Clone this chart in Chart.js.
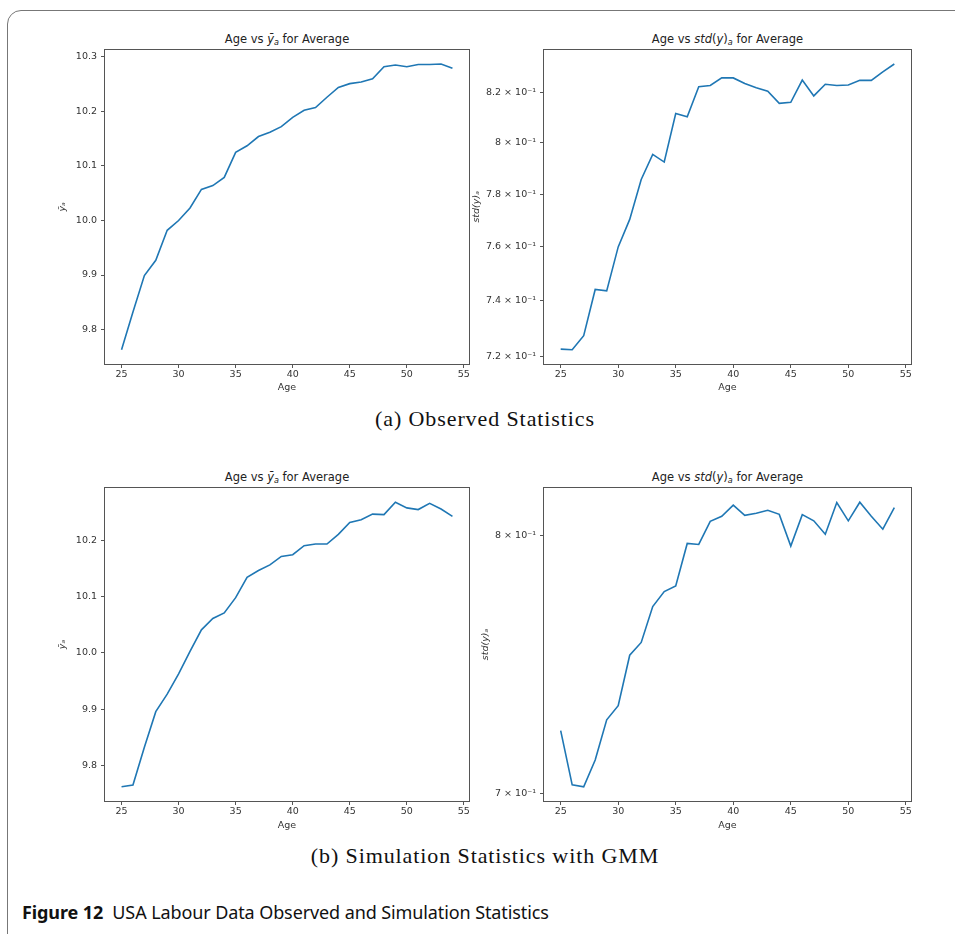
<!DOCTYPE html>
<html>
<head>
<meta charset="utf-8">
<script src="https://cdn.jsdelivr.net/npm/chart.js@4.4.0/dist/chart.umd.min.js"></script>
<style>
  body { margin: 0; width: 955px; height: 934px; overflow: hidden; background: #fff; position: relative; }
  .box { position: absolute; left: 7px; top: 10px; width: 1000px; height: 1000px; border: 1.5px solid #777; border-radius: 14px; }
  canvas { position: absolute; }
  .ttl { position: absolute; font-family: "DejaVu Sans"; font-size: 11.5px; color: #222; text-align: center; line-height: 14px; white-space: nowrap; }
  .ttl sub { font-size: 70%; vertical-align: -2px; line-height: 0; }
  .cap { position: absolute; left: 0; width: 970px; text-align: center; font-family: "Liberation Serif"; font-size: 22px; color: #111; letter-spacing: 0.9px; }
  .fig { position: absolute; left: 22px; top: 900px; font-family: "Noto Sans"; font-size: 18px; color: #111; white-space: nowrap; letter-spacing: -0.1px; }
</style>
</head>
<body>
<div class="box"></div>

<div class="ttl" style="left:105px;width:364px;top:32px">Age vs <i>ȳ</i><sub><i>a</i></sub> for Average</div>
<div class="ttl" style="left:544px;width:367px;top:32px">Age vs <i>std</i>(<i>y</i>)<sub><i>a</i></sub> for Average</div>
<div class="ttl" style="left:105px;width:364px;top:470px">Age vs <i>ȳ</i><sub><i>a</i></sub> for Average</div>
<div class="ttl" style="left:544px;width:367px;top:470px">Age vs <i>std</i>(<i>y</i>)<sub><i>a</i></sub> for Average</div>

<canvas id="c1" width="427" height="358" style="left:48px;top:40px"></canvas>
<canvas id="c2" width="450" height="358" style="left:467px;top:40px"></canvas>
<canvas id="c3" width="427" height="358" style="left:48px;top:478px"></canvas>
<canvas id="c4" width="441" height="358" style="left:476px;top:478px"></canvas>

<div class="cap" style="top:406px">(a) Observed Statistics</div>
<div class="cap" style="top:843px">(b) Simulation Statistics with GMM</div>
<div class="fig"><b>Figure 12</b>&nbsp; USA Labour Data Observed and Simulation Statistics</div>

<script>
const ages = [25, 26, 27, 28, 29, 30, 31, 32, 33, 34, 35, 36, 37, 38, 39, 40, 41, 42, 43, 44, 45, 46, 47, 48, 49, 50, 51, 52, 53, 54];

const obsMean = [9.763, 9.832, 9.899, 9.927, 9.982, 10.000, 10.023, 10.057, 10.064, 10.079, 10.125, 10.137, 10.154, 10.162, 10.172,
  10.189, 10.202, 10.207, 10.226, 10.244, 10.251, 10.254, 10.260, 10.282, 10.285, 10.282, 10.286, 10.286, 10.287, 10.279];
const obsStd = [0.7226, 0.7224, 0.7274, 0.7442, 0.7437, 0.7600, 0.7704, 0.7857, 0.7955, 0.7925, 0.8117, 0.8104, 0.8225, 0.8230, 0.8261,
  0.8261, 0.8238, 0.8221, 0.8207, 0.8158, 0.8162, 0.8252, 0.8188, 0.8235, 0.8230, 0.8232, 0.8251, 0.8251, 0.8286, 0.8318];
const simMean = [9.763, 9.766, 9.833, 9.896, 9.927, 9.963, 10.003, 10.041, 10.061, 10.071, 10.098, 10.134, 10.146, 10.156, 10.171,
  10.174, 10.190, 10.193, 10.193, 10.210, 10.231, 10.236, 10.246, 10.245, 10.267, 10.257, 10.254, 10.265, 10.255, 10.242];
const simStd = [0.7230, 0.7030, 0.7023, 0.7121, 0.7271, 0.7324, 0.7518, 0.7568, 0.7710, 0.7770, 0.7793, 0.7966, 0.7962, 0.8058, 0.8079,
  0.8126, 0.8083, 0.8092, 0.8104, 0.8087, 0.7955, 0.8086, 0.8060, 0.8004, 0.8137, 0.8060, 0.8138, 0.8079, 0.8025, 0.8115];

const xTicks = [25, 30, 35, 40, 45, 50, 55];
const obsMeanTicks = [9.8, 9.9, 10.0, 10.1, 10.2, 10.3];
const obsStdTicks = [0.72, 0.74, 0.76, 0.78, 0.80, 0.82];
const simMeanTicks = [9.8, 9.9, 10.0, 10.1, 10.2];
const simStdTicks = [0.7, 0.8];

const FONT = "DejaVu Sans";
const INK = "#333";
const SPINE = "#555";

// matplotlib style 5% margins
function linRange(v) {
  const lo = Math.min(...v), hi = Math.max(...v), m = (hi - lo) * 0.05;
  return [lo - m, hi + m];
}
function logRange(v) {
  const lo = Math.log(Math.min(...v)), hi = Math.log(Math.max(...v)), m = (hi - lo) * 0.05;
  return [Math.exp(lo - m), Math.exp(hi + m)];
}

const frame = {
  id: "frame",
  afterDraw(chart) {
    const { ctx, chartArea: a } = chart;
    ctx.save();
    ctx.strokeStyle = SPINE;
    ctx.lineWidth = 1;
    ctx.strokeRect(Math.round(a.left) - 0.5, Math.round(a.top) - 0.5, Math.round(a.right - a.left) + 1, Math.round(a.bottom - a.top) + 1);
    ctx.restore();
  }
};

function logLabel(v) {
  return Number((v * 10).toFixed(1)) + " \u00d7 10\u207b\u00b9";
}

function makeChart(id, values, yTicks, isLog, yTitle, yWidth, xHeight, padTop, padRight, yTitlePad) {
  const xr = linRange(ages);
  const yr = isLog ? logRange(values) : linRange(values);
  return new Chart(document.getElementById(id), {
    type: "line",
    data: {
      datasets: [{
        data: ages.map((a, i) => ({ x: a, y: values[i] })),
        borderColor: "#1f77b4",
        borderWidth: 1.6,
        pointRadius: 0,
        tension: 0,
        fill: false
      }]
    },
    options: {
      responsive: false,
      animation: false,
      layout: { padding: { top: padTop, right: padRight, left: 0, bottom: 0 } },
      plugins: { legend: { display: false }, tooltip: { enabled: false } },
      scales: {
        x: {
          type: "linear",
          min: xr[0],
          max: xr[1],
          afterBuildTicks: s => { s.ticks = xTicks.map(v => ({ value: v })); },
          afterFit: s => { s.height = xHeight; },
          grid: { drawOnChartArea: false, drawTicks: true, tickLength: 4, color: SPINE },
          border: { display: false },
          ticks: { autoSkip: false, maxRotation: 0, padding: 1, color: INK, font: { family: FONT, size: 9.5 } },
          title: { display: true, text: "Age", color: INK, padding: { top: 0, bottom: 5 }, font: { family: FONT, size: 9.5 } }
        },
        y: {
          type: isLog ? "logarithmic" : "linear",
          min: yr[0],
          max: yr[1],
          afterBuildTicks: s => { s.ticks = yTicks.map(v => ({ value: v })); },
          afterFit: s => { s.width = yWidth; },
          grid: { drawOnChartArea: false, drawTicks: true, tickLength: 4, color: SPINE },
          border: { display: false },
          ticks: {
            autoSkip: false,
            padding: 4,
            color: INK,
            font: { family: FONT, size: 9.5 },
            callback: v => isLog ? logLabel(v) : v.toFixed(1)
          },
          title: { display: true, text: yTitle, color: INK, padding: { top: yTitlePad, bottom: 0 }, font: { family: FONT, size: 9.5, style: "italic" } }
        }
      }
    },
    plugins: [frame]
  });
}

makeChart("c1", obsMean, obsMeanTicks, false, "ȳ\u2090", 57, 34, 9, 6, 9);
makeChart("c2", obsStd, obsStdTicks, true, "std(y)\u2090", 77, 34, 9, 6, 4);
makeChart("c3", simMean, simMeanTicks, false, "ȳ\u2090", 57, 35, 10, 6, 9);
makeChart("c4", simStd, simStdTicks, true, "std(y)\u2090", 68, 35, 10, 6, 4);
</script>
</body>
</html>
